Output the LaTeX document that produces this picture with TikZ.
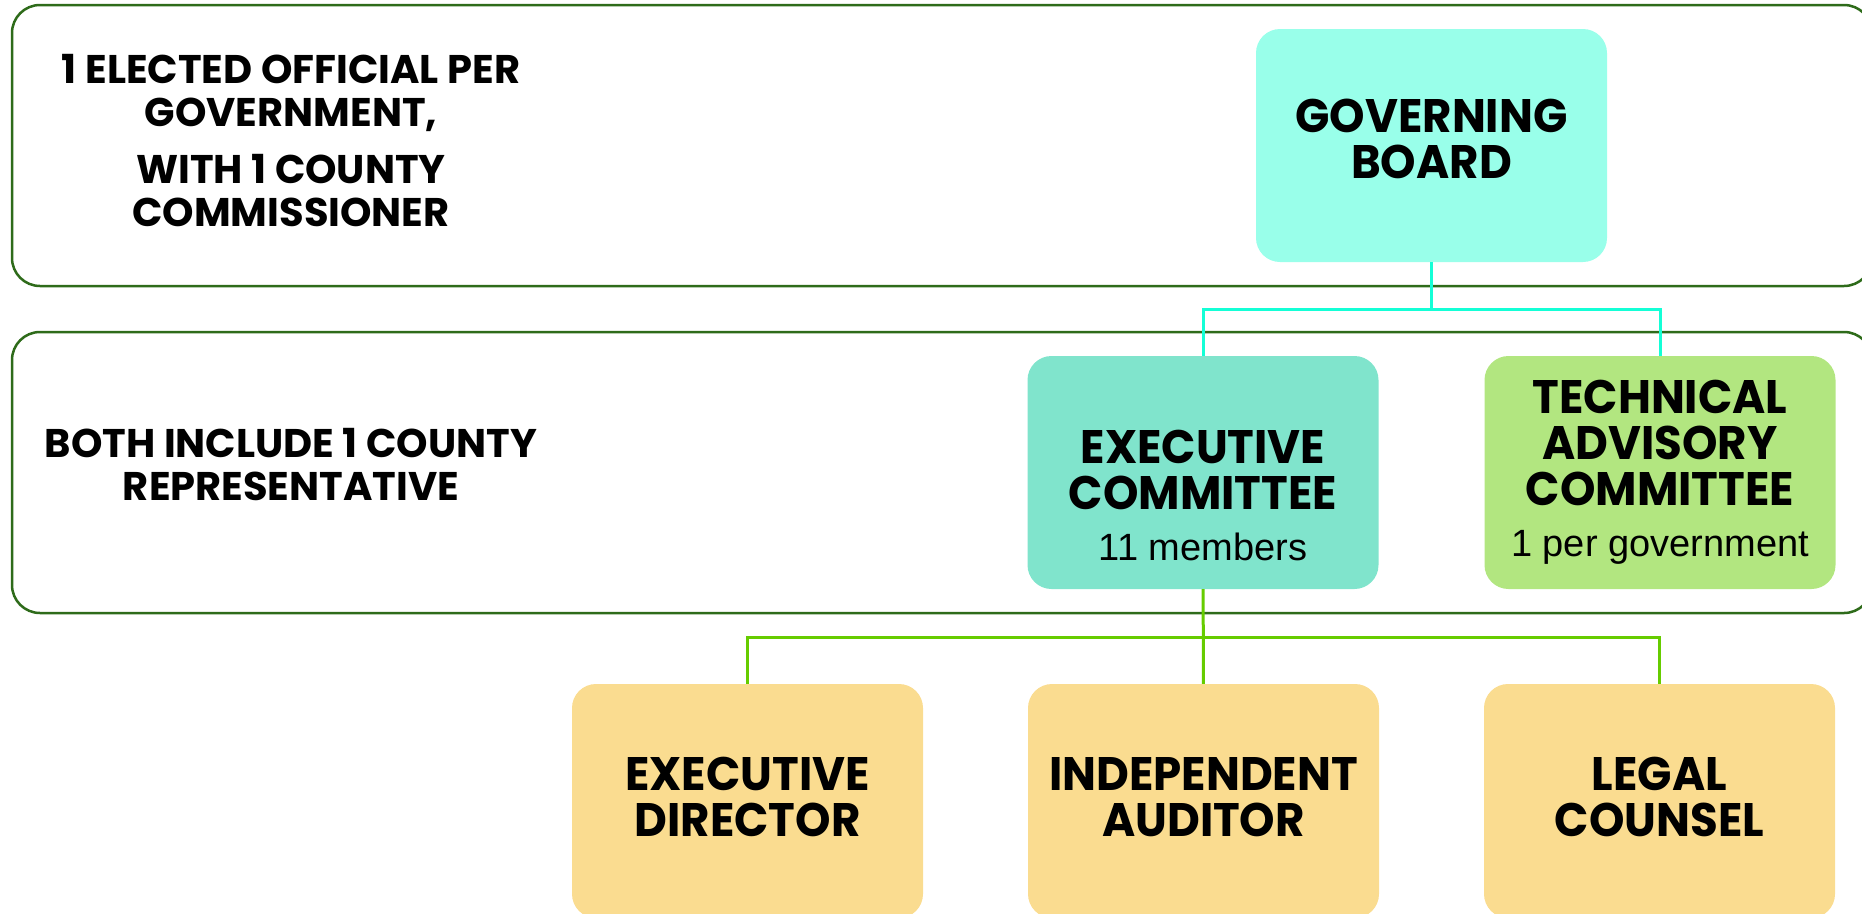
\documentclass[tikz,border=0pt]{standalone}
\usepackage{fontspec}
\setmainfont{Liberation Sans}
\newfontfamily\headfont{Poppins}[FakeStretch=0.96]
\newfontfamily\notefont{Poppins}
\usetikzlibrary{positioning}
\definecolor{frameg}{HTML}{2E6B1A}
\definecolor{boardc}{HTML}{99FFEA}
\definecolor{execc}{HTML}{80E4CC}
\definecolor{techc}{HTML}{B2E680}
\definecolor{staffc}{HTML}{FADC90}
\definecolor{aqual}{HTML}{14FFD6}
\definecolor{greenl}{HTML}{66CC00}
\newcommand{\subtxt}{\normalfont\fontsize{38}{40}\selectfont}

\begin{document}
\begin{tikzpicture}[x=1pt, y=-1pt, frame/.style={draw=frameg, line width=2.5pt, rounded corners=28pt}, box/.style={rounded corners=24pt, minimum width=351pt, minimum height=233pt, align=center, inner sep=0pt, font=\headfont\bfseries\fontsize{47}{46}\selectfont}, note/.style={align=center, font=\notefont\bfseries\fontsize{40}{43}\selectfont}, link/.style={line width=3pt}]
\useasboundingbox (0,0) rectangle (1862,913);
\draw[frame] (12,5) rectangle (1872,286);
\draw[frame] (12,332) rectangle (1872,613);
\node[note] (n1) at (291,141) {1 ELECTED OFFICIAL PER\\GOVERNMENT,\\[14pt]WITH 1 COUNTY\\COMMISSIONER};
\node[note] (n2) at (291,465) {BOTH INCLUDE 1 COUNTY\\REPRESENTATIVE};
\node[box, fill=boardc] (gb) at (1431.5,145.5) {GOVERNING\\BOARD\rule[-14pt]{0pt}{0pt}};
\node[box, fill=execc] (ec) at (1203,472.5) {\rule{0pt}{80pt}EXECUTIVE\\COMMITTEE\\[5pt]{\subtxt 11 members}};
\node[box, fill=techc] (tac) at (1660,472.5) {TECHNICAL\\ADVISORY\\COMMITTEE\\[5pt]{\subtxt 1 per government}};
\node[box, fill=staffc, minimum height=234pt] (ed) at (747.5,801) {EXECUTIVE\\DIRECTOR\rule[-9pt]{0pt}{0pt}};
\node[box, fill=staffc, minimum height=234pt] (ia) at (1203.5,801) {INDEPENDENT\\AUDITOR\rule[-9pt]{0pt}{0pt}};
\node[box, fill=staffc, minimum height=234pt] (lc) at (1659.5,801) {LEGAL\\COUNSEL\rule[-9pt]{0pt}{0pt}};
\coordinate (j1) at (1431.5,309);
\coordinate (j2) at (1203,637);
\draw[link, draw=aqual] (gb) -- (j1) -| (ec);
\draw[link, draw=aqual] (j1) -| (tac);
\draw[link, draw=greenl] (ec) -- (ia);
\draw[link, draw=greenl] (j2) -| (ed);
\draw[link, draw=greenl] (j2) -| (lc);
\end{tikzpicture}
\end{document}
